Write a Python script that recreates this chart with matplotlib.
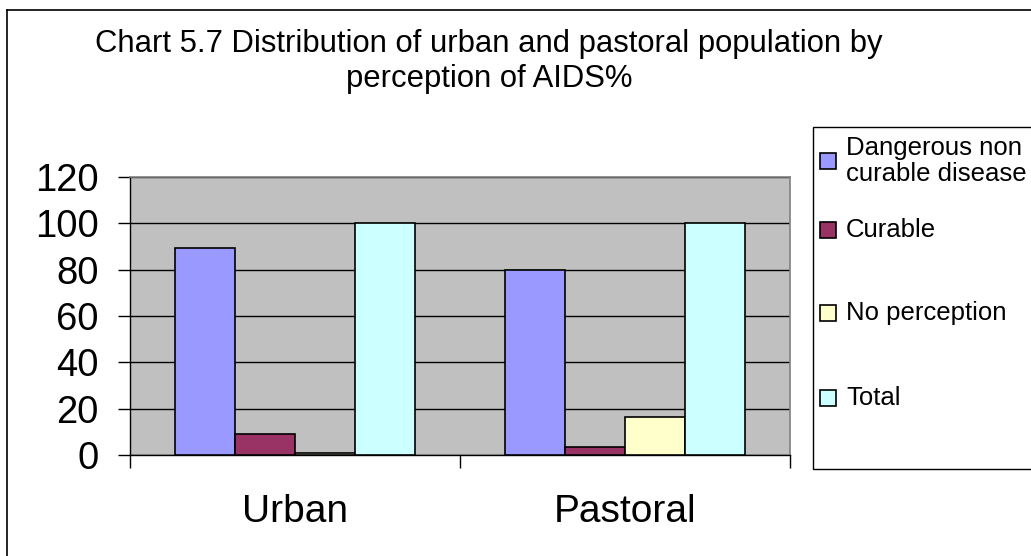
import matplotlib
matplotlib.use("Agg")
import matplotlib.pyplot as plt
import numpy as np
from matplotlib.lines import Line2D
from matplotlib.patches import Rectangle

plt.rcParams['font.family'] = ['Liberation Sans', 'DejaVu Sans']

categories = ["Urban", "Pastoral"]
series_names = ["Dangerous non\ncurable disease", "Curable", "No perception", "Total"]
dangerous = [89.5, 80]
curable = [9, 3.3]
no_perception = [1, 16.5]
total = [100, 100]
yticks = [0, 20, 40, 60, 80, 100, 120]
title_lines = ["Chart 5.7 Distribution of urban and pastoral population by",
               "perception of AIDS%"]

colors = ["#9999FF", "#993366", "#FFFFCC", "#CCFFFF"]
series = [dangerous, curable, no_perception, total]

W, H = 1031, 556
fig = plt.figure(figsize=(W/100, H/100), dpi=100)
ax = fig.add_axes([130/W, 1-455/H, 660/W, 278/H])
ax.set_facecolor("#C0C0C0")

x = np.arange(len(categories))
w = 60/330
for i, (vals, c, name) in enumerate(zip(series, colors, series_names)):
    ax.bar(x + (i - 1.5) * w, vals, width=w, color=c, edgecolor="black",
           linewidth=1.2, label=name, zorder=3)

ax.set_xlim(-0.5, 1.5)
ax.set_ylim(0, 120)
ax.set_yticks(yticks)
ax.set_yticklabels([str(t) for t in yticks], fontsize=27.5)
ax.yaxis.grid(True, color="black", linewidth=1, zorder=1)
ax.set_axisbelow(True)
ax.tick_params(axis='y', length=8.6, width=1, pad=14)

ax.set_xticks(x)
ax.set_xticklabels(categories, fontsize=28)
ax.set_xticks([-0.5, 0.5, 1.5], minor=True)
ax.tick_params(axis='x', which='major', length=0, pad=28)
ax.tick_params(axis='x', which='minor', length=9.4, width=1)

for s in ['top', 'right']:
    ax.spines[s].set_color("#808080")
    ax.spines[s].set_linewidth(1.2)
for s in ['left', 'bottom']:
    ax.spines[s].set_color("black")
    ax.spines[s].set_linewidth(1)

fig.text(489/W, 1-44/H, title_lines[0], ha="center", va="center", fontsize=22.3)
fig.text(489/W, 1-79/H, title_lines[1], ha="center", va="center", fontsize=22.3)

# legend box (manually placed to match reference layout)
fig.add_artist(Rectangle((813/W, 1-469/H), (W+5-813)/W, (469-127)/H,
                         transform=fig.transFigure, facecolor="white",
                         edgecolor="black", linewidth=1.0))
entry_y = [161, 230, 313, 398]
for c, name, yc in zip(colors, series_names, entry_y):
    fig.add_artist(Rectangle((820/W, 1-(yc+8)/H), 16/W, 16/H,
                             transform=fig.transFigure, facecolor=c,
                             edgecolor="black", linewidth=1.2))
    fig.text(846/W, 1-yc/H, name, ha="left", va="center", fontsize=18.5,
             linespacing=1.15)

# outer chart border
fig.add_artist(Line2D([7/W, 7/W], [0, 1-10/H], color="black", linewidth=1.2, transform=fig.transFigure))
fig.add_artist(Line2D([7/W, 1], [1-10/H, 1-10/H], color="black", linewidth=1.2, transform=fig.transFigure))

fig.savefig("out.png", dpi=100)
